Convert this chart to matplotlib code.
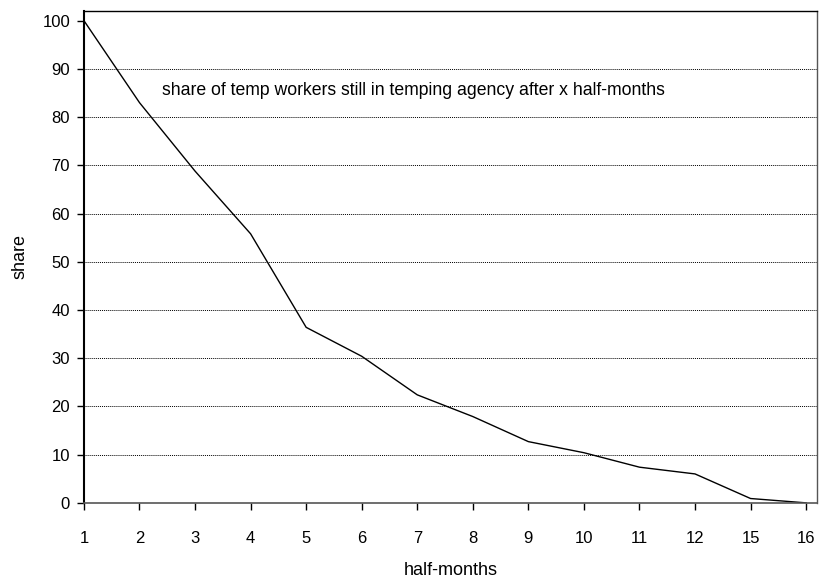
import matplotlib.pyplot as plt

plt.rcParams['font.family'] = ['Liberation Sans', 'DejaVu Sans']

# half-month categories and share still in agency
half_months = ['1', '2', '3', '4', '5', '6', '7', '8', '9', '10', '11', '12', '15', '16']
share = [100, 83, 68.8, 55.8, 36.4, 30.4, 22.4, 17.9, 12.7, 10.4, 7.4, 6.0, 0.9, 0]

fig = plt.figure(figsize=(8.23, 5.8), dpi=100)
ax = fig.add_axes([0.102, 0.133, 0.891, 0.848])

pos = list(range(len(half_months)))
ax.plot(pos, share, color='black', linewidth=1)

ax.set_xlim(0, len(half_months) - 1 + 0.2)
ax.set_ylim(0, 102)
ax.set_xticks(pos)
ax.set_xticklabels(half_months)
ax.set_yticks(range(0, 101, 10))

ax.grid(axis='y', linestyle=(0, (1, 1)), color='black', linewidth=0.7)
ax.set_axisbelow(True)
# no gridline at the top value
ax.yaxis.get_gridlines()[-1].set_visible(False)

ax.tick_params(axis='both', direction='out', length=5, width=1, labelsize=12)
ax.tick_params(axis='x', pad=15)
ax.tick_params(axis='y', pad=5)

ax.spines['left'].set_linewidth(1.5)
ax.spines['bottom'].set_color('#555555')
ax.spines['bottom'].set_linewidth(1.2)
ax.spines['top'].set_linewidth(1)
ax.spines['right'].set_color('#555555')
ax.spines['right'].set_linewidth(1)

ax.text(0.106, 0.839, 'share of temp workers still in temping agency after x half-months',
        transform=ax.transAxes, ha='left', va='center', fontsize=12.7)

ax.set_xlabel('half-months', fontsize=13, labelpad=12)
ax.set_ylabel('share', fontsize=13, labelpad=10)

fig.savefig('out.png', dpi=100)
